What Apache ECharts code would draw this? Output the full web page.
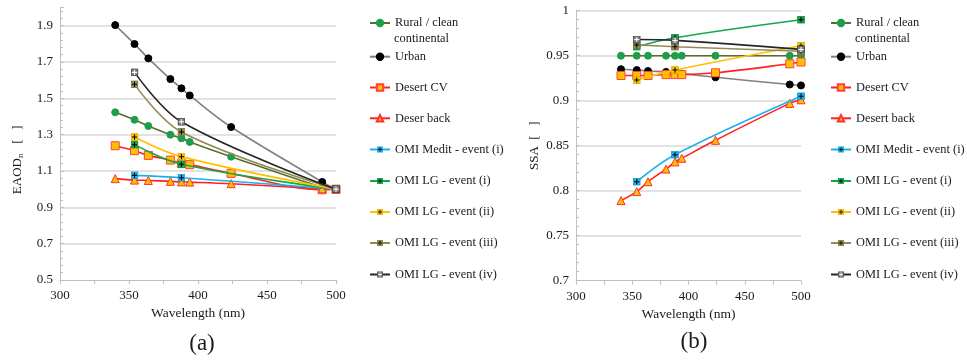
<!DOCTYPE html>
<html>
<head>
<meta charset="utf-8">
<script src="https://cdn.jsdelivr.net/npm/echarts@6/dist/echarts.min.js"></script>
<style>
html,body{margin:0;padding:0;background:#fff;}
#chart{width:967px;height:360px;}
</style>
</head>
<body>
<div id="chart"></div>
<script>
// ---------- DATA ----------
const wavelengthModel = [340, 354, 364, 380, 388, 394, 424, 490, 500];
const wavelengthOMI = [354, 388, 500];

// (a) normalized EAOD
const eaodRural = [1.423, 1.382, 1.348, 1.300, 1.280, 1.260, 1.179, 1.010, 1.000];
const eaodUrban = [1.903, 1.799, 1.720, 1.606, 1.555, 1.516, 1.342, 1.040, 1.000];
const eaodDesertCV = [1.239, 1.212, 1.186, 1.160, 1.142, 1.135, 1.087, 0.997, 1.000];
const eaodDesertBack = [1.058, 1.050, 1.048, 1.043, 1.040, 1.039, 1.030, 1.002, 1.000];
const eaodMedit1 = [1.076, 1.063, 1.000];
const eaodLG1 = [1.245, 1.137, 1.000];
const eaodLG2 = [1.287, 1.179, 1.000];
const eaodLG3 = [1.577, 1.315, 1.000];
const eaodLG4 = [1.643, 1.371, 1.000];

// (b) SSA
const ssaRural = [0.950, 0.950, 0.950, 0.950, 0.950, 0.950, 0.950, 0.950, 0.950];
const ssaUrban = [0.935, 0.934, 0.933, 0.932, 0.931, 0.930, 0.926, 0.918, 0.917];
const ssaDesertCV = [0.928, 0.928, 0.928, 0.929, 0.929, 0.929, 0.931, 0.941, 0.943];
const ssaDesertBack = [0.789, 0.799, 0.810, 0.824, 0.832, 0.836, 0.856, 0.897, 0.901];
const ssaMedit1 = [0.810, 0.840, 0.905];
const ssaLG1 = [0.960, 0.970, 0.990];
const ssaLG2 = [0.923, 0.934, 0.961];
const ssaLG3 = [0.962, 0.960, 0.955];
const ssaLG4 = [0.968, 0.967, 0.957];

const namesA = ['Rural / clean continental', 'Urban', 'Desert CV', 'Deser back',
  'OMI Medit - event (i)', 'OMI LG - event (i)', 'OMI LG - event (ii)', 'OMI LG - event (iii)', 'OMI LG - event (iv)'];
const namesB = ['Rural / clean continental', 'Urban', 'Desert CV', 'Desert back',
  'OMI Medit - event (i)', 'OMI LG - event (i)', 'OMI LG - event (ii)', 'OMI LG - event (iii)', 'OMI LG - event (iv)'];

const xTitle = 'Wavelength (nm)';
const panelLabels = ['(a)', '(b)'];

// ---------- STYLE ----------
const FONT = '"Liberation Serif", "Times New Roman", serif';
const TXT = '#1a1a1a';
const LEG_FS = 12.4;

function crossSquare(fill, border, cross) {
  const svg = '<svg xmlns="http://www.w3.org/2000/svg" width="20" height="20" viewBox="0 0 20 20">' +
    '<rect x="1.5" y="1.5" width="17" height="17" fill="' + fill + '" stroke="' + border + '" stroke-width="2"/>' +
    '<path d="M10 3.5V16.5M3.5 10H16.5" stroke="' + cross + '" stroke-width="2.6"/></svg>';
  return 'image://data:image/svg+xml;charset=utf-8,' + encodeURIComponent(svg);
}

const styles = [
  { line: '#5a6e2c', symbol: 'circle', size: 7, color: '#1e9e48', border: '#1e9e48' },
  { line: '#808080', symbol: 'circle', size: 7, color: '#000000', border: '#000000' },
  { line: '#ff2020', symbol: 'rect', size: 8, color: '#ffc000', border: '#ff4040' },
  { line: '#ff2020', symbol: 'triangle', size: 8, color: '#ffc000', border: '#ff3030' },
  { line: '#1cb0ec', symbol: crossSquare('#1cb0ec', '#1a9ad0', '#000'), size: 8 },
  { line: '#12a84e', symbol: crossSquare('#12a84e', '#0f8f42', '#000'), size: 8 },
  { line: '#ffc000', symbol: crossSquare('#ffc000', '#e0a800', '#000'), size: 8 },
  { line: '#948a54', symbol: crossSquare('#948a54', '#7a7040', '#000'), size: 8 },
  { line: '#262626', symbol: crossSquare('#7f7f7f', '#404040', '#fff'), size: 8 }
];

const dataA = [eaodRural, eaodUrban, eaodDesertCV, eaodDesertBack, eaodMedit1, eaodLG1, eaodLG2, eaodLG3, eaodLG4];
const dataB = [ssaRural, ssaUrban, ssaDesertCV, ssaDesertBack, ssaMedit1, ssaLG1, ssaLG2, ssaLG3, ssaLG4];

function zip(xs, ys) { return ys.map((y, i) => [xs[i], y]); }

function buildSeries(names, data, idx) {
  return names.map((n, i) => {
    const st = styles[i];
    const xs = i < 4 ? wavelengthModel : wavelengthOMI;
    return {
      name: n,
      type: 'line',
      xAxisIndex: idx,
      yAxisIndex: idx,
      data: zip(xs, data[i]),
      smooth: 0.35,
      symbol: st.symbol,
      symbolSize: st.size,
      showAllSymbol: true,
      lineStyle: { color: st.line, width: 1.6 },
      itemStyle: st.color ? { color: st.color, borderColor: st.border, borderWidth: 1 } : { color: st.line },
      emphasis: { disabled: true },
      animation: false,
      z: 2 + i
    };
  });
}

const legendCenters = [23, 56.7, 87.5, 118.3, 149.5, 181, 212, 243, 274.5];

function buildLegends(names, left) {
  return names.map((n, i) => ({
    data: [n],
    left: left,
    top: legendCenters[i] - 7.5,
    orient: 'vertical',
    padding: 0,
    itemWidth: 20,
    itemHeight: 8,
    selectedMode: false,
    formatter: (name) => name === 'Rural / clean continental' ? 'Rural / clean' : name,
    textStyle: { fontFamily: FONT, fontSize: LEG_FS, color: TXT, lineHeight: 15 }
  }));
}

function xAxisCfg(idx) {
  return {
    type: 'value', gridIndex: idx, min: 300, max: 500, interval: 50,
    axisLine: { show: true, lineStyle: { color: '#bfbfbf', width: 1 } },
    axisTick: { show: true, length: 4, lineStyle: { color: '#bfbfbf' } },
    minorTick: { show: true, splitNumber: 2, length: 4, lineStyle: { color: '#bfbfbf' } },
    splitLine: { show: false },
    axisLabel: { fontFamily: FONT, fontSize: 13, color: TXT, margin: 9 },
    name: xTitle, nameLocation: 'middle', nameGap: 25,
    nameTextStyle: { fontFamily: FONT, fontSize: 13.5, color: TXT }
  };
}

const option = {
  backgroundColor: '#ffffff',
  animation: false,
  grid: [
    { left: 60, top: 7.5, width: 276, height: 272.5 },
    { left: 576, top: 10.7, width: 225, height: 270 }
  ],
  xAxis: [xAxisCfg(0), xAxisCfg(1)],
  yAxis: [
    {
      type: 'value', gridIndex: 0, min: 0.5, max: 2.0, interval: 0.2,
      axisLine: { show: true, lineStyle: { color: '#bfbfbf' } },
      axisTick: { show: true, inside: true, length: 4, lineStyle: { color: '#bfbfbf' } },
      minorTick: { show: true, splitNumber: 5, length: 3, lineStyle: { color: '#bfbfbf' } },
      splitLine: { show: true, showMaxLine: false, showMinLine: false, lineStyle: { color: '#d9d9d9', width: 1.5 } },
      axisLabel: { fontFamily: FONT, fontSize: 13, color: TXT, margin: 7, showMaxLabel: false },
      name: '{a|EAOD}{s|n}{a|   [   ]}', nameLocation: 'middle', nameGap: 35,
      nameTextStyle: {
        padding: [0, 32, 0, 0],
        rich: {
          a: { fontFamily: FONT, fontSize: 13, color: TXT },
          s: { fontFamily: FONT, fontSize: 9, color: TXT, padding: [6, 0, 0, 0] }
        }
      }
    },
    {
      type: 'value', gridIndex: 1, min: 0.7, max: 1.0, interval: 0.05,
      axisLine: { show: true, lineStyle: { color: '#bfbfbf' } },
      axisTick: { show: true, inside: true, length: 4, lineStyle: { color: '#bfbfbf' } },
      minorTick: { show: true, splitNumber: 5, length: 3, lineStyle: { color: '#bfbfbf' } },
      splitLine: { show: true, showMinLine: false, lineStyle: { color: '#d9d9d9', width: 1.5 } },
      axisLabel: { fontFamily: FONT, fontSize: 13, color: TXT, margin: 7 },
      name: 'SSA  [   ]', nameLocation: 'middle', nameGap: 35,
      nameTextStyle: { fontFamily: FONT, fontSize: 13, color: TXT }
    }
  ],
  legend: buildLegends(namesA, 369).concat(buildLegends(namesB, 830)),
  graphic: [
    { type: 'text', x: 394, y: 39, style: { text: 'continental', fontFamily: FONT, fontSize: LEG_FS, fill: TXT, align: 'left', verticalAlign: 'middle' } },
    { type: 'text', x: 855, y: 39, style: { text: 'continental', fontFamily: FONT, fontSize: LEG_FS, fill: TXT, align: 'left', verticalAlign: 'middle' } },
    { type: 'text', x: 202, y: 344, style: { text: panelLabels[0], fontFamily: FONT, fontSize: 23, fill: TXT, align: 'center', verticalAlign: 'middle' } },
    { type: 'text', x: 694, y: 342, style: { text: panelLabels[1], fontFamily: FONT, fontSize: 23, fill: TXT, align: 'center', verticalAlign: 'middle' } }
  ],
  series: buildSeries(namesA, dataA, 0).concat(buildSeries(namesB, dataB, 1))
};

const chart = echarts.init(document.getElementById('chart'), null, { renderer: 'canvas' });
chart.setOption(option);
</script>
</body>
</html>
